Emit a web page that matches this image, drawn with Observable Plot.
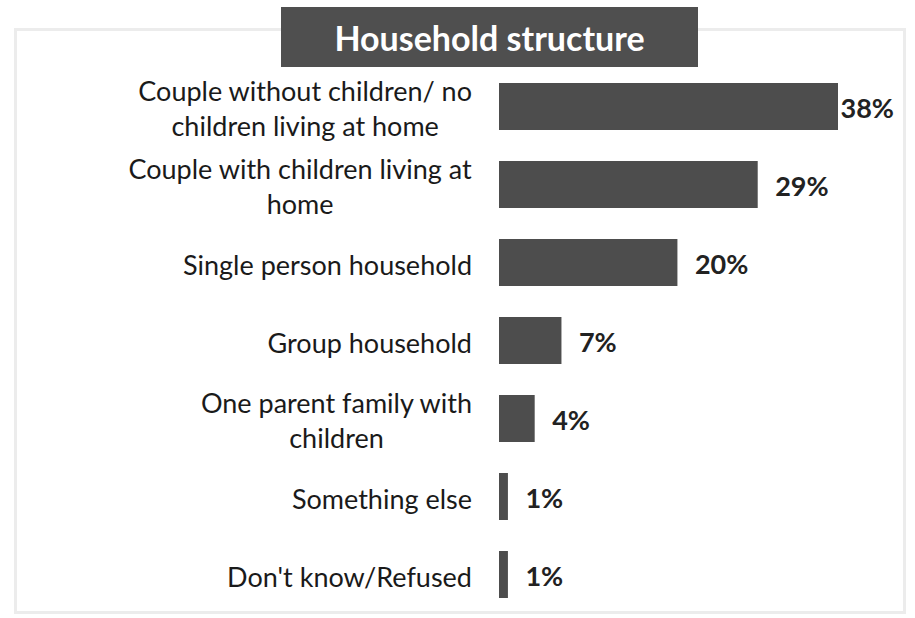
<!DOCTYPE html>
<html>
<head>
<meta charset="utf-8">
<script src="https://cdn.jsdelivr.net/npm/d3@7"></script>
<script src="https://cdn.jsdelivr.net/npm/@observablehq/plot@0.6"></script>
<style>
  html, body { margin: 0; padding: 0; background: #fff; }
  body { width: 915px; height: 618px; overflow: hidden; position: relative; font-family: Lato, "Open Sans", sans-serif; }
  #frame { position: absolute; left: 14px; top: 28px; width: 892px; height: 586px; border: 3px solid #ececec; box-sizing: border-box; }
  #titlebar { position: relative; height: 67px; }
  #title { position: absolute; left: 281px; top: 7px; width: 417px; height: 60px; background: #4f4f4f; color: #fff;
           font-weight: bold; font-size: 34px; display: flex; align-items: center; justify-content: center; box-sizing: border-box; }
  #chart { position: relative; }
</style>
</head>
<body>
<div id="frame"></div>
<div id="titlebar"><div id="title">Household structure</div></div>
<div id="chart"></div>
<script>
const categories = [
  "Couple without children/ no\nchildren living at home",
  "Couple with children living at\nhome",
  "Single person household",
  "Group household",
  "One parent family with\nchildren",
  "Something else",
  "Don't know/Refused"
];
const values = [38, 29, 20, 7, 4, 1, 1];
const valueLabels = ["38%", "29%", "20%", "7%", "4%", "1%", "1%"];

const data = categories.map((c, i) => ({category: c, value: values[i], label: valueLabels[i]}));
const maxValue = d3.max(values);

const chart = Plot.plot({
  width: 915,
  height: 551,
  marginLeft: 499,
  marginRight: 77,
  marginTop: 0,
  marginBottom: 4,
  style: {fontFamily: "Lato, 'Open Sans', sans-serif", background: "transparent", overflow: "visible"},
  x: {domain: [0, maxValue], axis: null},
  y: {domain: categories, axis: null, paddingInner: 0.4, paddingOuter: 0.2},
  marks: [
    Plot.barX(data, {x: "value", y: "category", fill: "#4d4d4d"}),
    Plot.text(data, {
      y: "category", text: "category", frameAnchor: "left", dx: -27,
      textAnchor: "middle", lineHeight: 1.33, fontSize: 27, fill: "#1a1a1a"
    }),
    Plot.text(data.filter(d => d.value < maxValue), {
      x: "value", y: "category", text: "label", textAnchor: "start", dx: 17, dy: 2,
      fontSize: 27, fontWeight: "bold", fill: "#222"
    }),
    Plot.text(data.filter(d => d.value === maxValue), {
      x: "value", y: "category", text: "label", textAnchor: "start", dx: 2, dy: 2,
      fontSize: 27, fontWeight: "bold", fill: "#222"
    })
  ]
});
document.getElementById("chart").appendChild(chart);

// Right-align each centered multi-line label block against the bars' left edge.
const catKeys = new Set(categories.map(c => c.replace(/\n/g, "")));
function alignLabels() {
  const svgRect = chart.getBoundingClientRect();
  const target = 499 - 27;
  chart.querySelectorAll("text").forEach(el => {
    if (!catKeys.has(el.textContent)) return;
    if (!el.dataset.base) el.dataset.base = el.getAttribute("transform") || "";
    el.setAttribute("transform", el.dataset.base);
    const r = el.getBoundingClientRect();
    const shift = target - (r.right - svgRect.left);
    el.setAttribute("transform", el.dataset.base + ` translate(${shift.toFixed(2)},0)`);
  });
}
alignLabels();
if (document.fonts && document.fonts.ready) document.fonts.ready.then(alignLabels);
</script>
</body>
</html>
